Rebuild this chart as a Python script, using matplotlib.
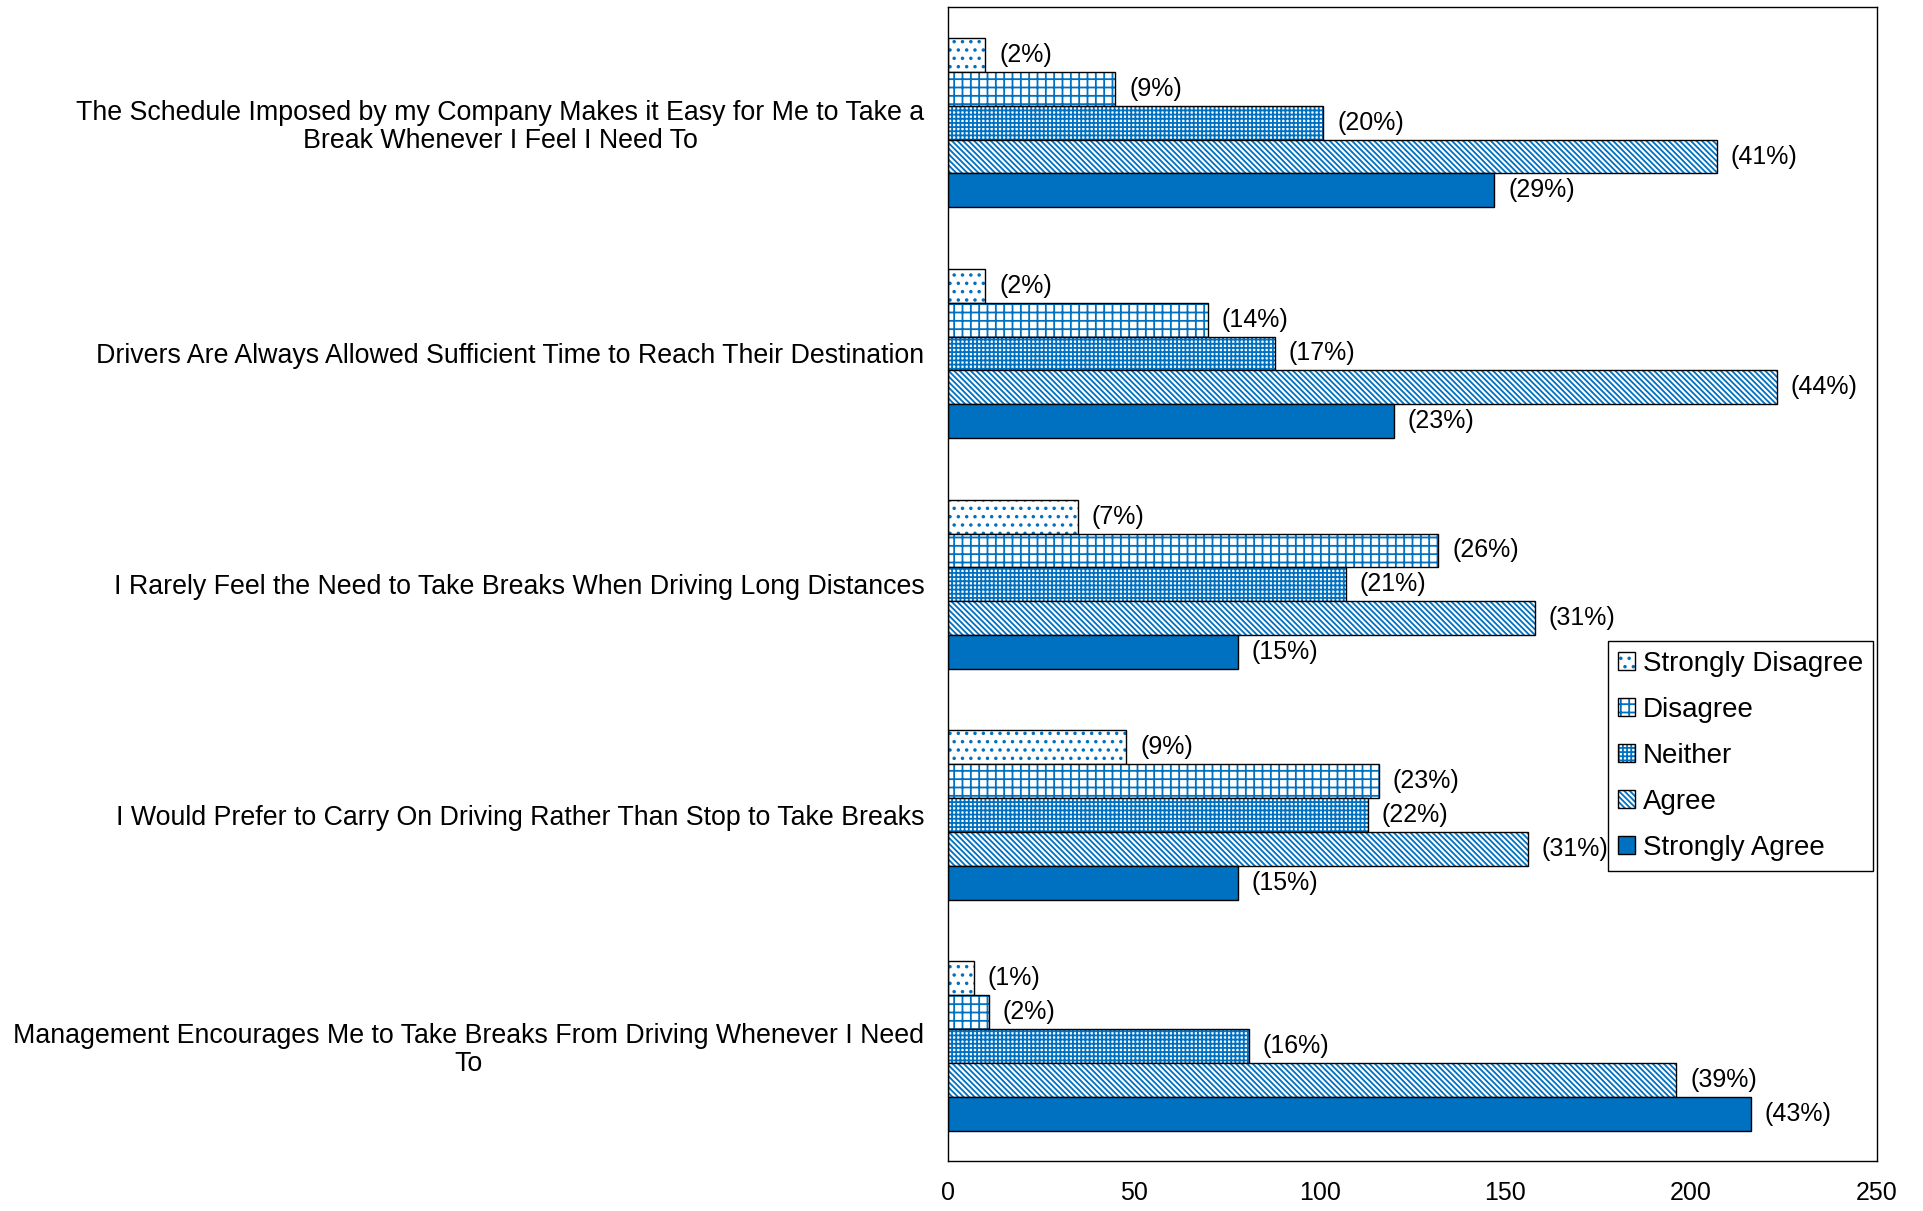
import matplotlib
matplotlib.use("Agg")
import matplotlib.pyplot as plt
import numpy as np
from matplotlib.legend_handler import HandlerTuple

categories = [
    "The Schedule Imposed by my Company Makes it Easy for Me to Take a\nBreak Whenever I Feel I Need To",
    "Drivers Are Always Allowed Sufficient Time to Reach Their Destination",
    "I Rarely Feel the Need to Take Breaks When Driving Long Distances",
    "I Would Prefer to Carry On Driving Rather Than Stop to Take Breaks",
    "Management Encourages Me to Take Breaks From Driving Whenever I Need\nTo",
]
series_names = ["Strongly Disagree", "Disagree", "Neither", "Agree", "Strongly Agree"]
strongly_disagree = [10, 10, 35, 48, 7]
disagree = [45, 70, 132, 116, 11]
neither = [101, 88, 107, 113, 81]
agree = [207, 223, 158, 156, 196]
strongly_agree = [147, 120, 78, 78, 216]
pct_sd = ["(2%)", "(2%)", "(7%)", "(9%)", "(1%)"]
pct_d = ["(9%)", "(14%)", "(26%)", "(23%)", "(2%)"]
pct_n = ["(20%)", "(17%)", "(21%)", "(22%)", "(16%)"]
pct_a = ["(41%)", "(44%)", "(31%)", "(31%)", "(39%)"]
pct_sa = ["(29%)", "(23%)", "(15%)", "(15%)", "(43%)"]
xticks = [0, 50, 100, 150, 200, 250]

values = [strongly_disagree, disagree, neither, agree, strongly_agree]
pcts = [pct_sd, pct_d, pct_n, pct_a, pct_sa]

BLUE = "#0070C0"
hatches = ["..", "++", "++++", "\\\\\\\\\\\\", None]
faces = ["white", "white", "white", "white", BLUE]

plt.rcParams["font.family"] = ["Liberation Sans", "DejaVu Sans"]
plt.rcParams["hatch.linewidth"] = 1.3
FS = 18
FS_CAT = 19.3

fig = plt.figure(figsize=(19.23, 12.11), dpi=100)
ax = fig.add_axes([0.493, 0.041, 0.483, 0.953])

h = 0.1467
y = np.arange(len(categories))
handles = []
for j, (vals, name) in enumerate(zip(values, series_names)):
    pos = y + (j - 2) * h
    hb = ax.barh(pos, vals, height=h, color=faces[j], edgecolor=BLUE,
                 hatch=hatches[j], linewidth=0)
    ob = ax.barh(pos, vals, height=h, fill=False, edgecolor="black", linewidth=1.0)
    handles.append((hb[0], ob[0]))
    for p, v, t in zip(pos, vals, pcts[j]):
        ax.annotate(t, xy=(v, p), xytext=(10, 0), textcoords="offset points",
                    ha="left", va="center", fontsize=FS)

ax.set_xlim(0, 250)
ax.set_ylim(4.5, -0.5)
ax.set_xticks(xticks)
ax.set_yticks(y)
ax.set_yticklabels(categories, fontsize=FS_CAT, multialignment="center", linespacing=1.1)
ax.tick_params(axis="both", length=0)
ax.tick_params(axis="x", labelsize=FS, pad=14)
ax.tick_params(axis="y", pad=17)
for s in ax.spines.values():
    s.set_linewidth(1.0)

leg = ax.legend(handles, series_names, handler_map={tuple: HandlerTuple(ndivide=1, pad=0)},
                loc="upper left", bbox_to_anchor=(0.711, 0.4506), fontsize=20,
                frameon=True, fancybox=False, edgecolor="black", framealpha=1,
                handlelength=0.6, handleheight=0.6, handletextpad=0.3,
                labelspacing=0.72, borderpad=0.35, borderaxespad=0)
leg.get_frame().set_linewidth(1.0)

fig.savefig("out.png", dpi=100)
